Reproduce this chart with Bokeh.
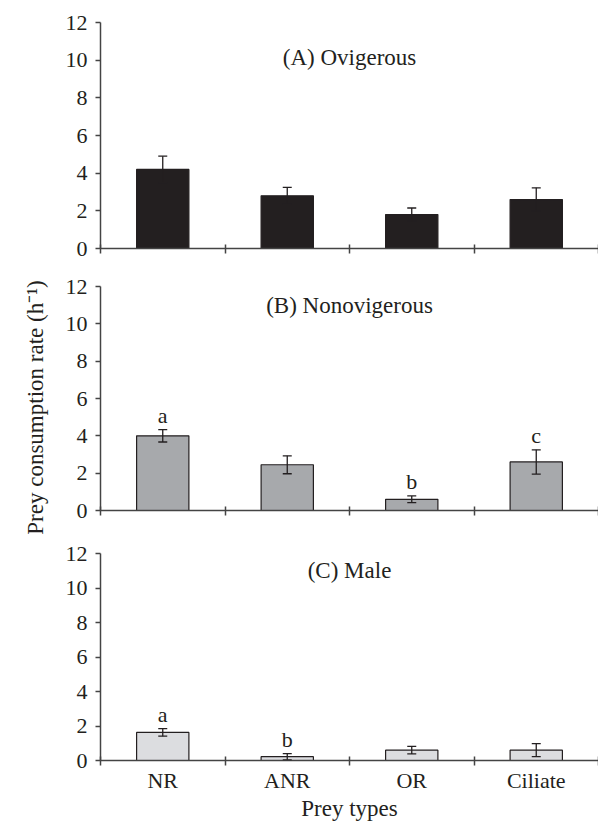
import math
from bokeh.plotting import figure
from bokeh.layouts import row, column
from bokeh.models import Range1d, FixedTicker, Whisker, TeeHead, ColumnDataSource
from bokeh.core.properties import value
from bokeh.embed import file_html
from bokeh.resources import INLINE

# ---------------- data ----------------
categories = ["NR", "ANR", "OR", "Ciliate"]
y_ticks = [0, 2, 4, 6, 8, 10, 12]

ovig_mean = [4.2, 2.8, 1.8, 2.6]
ovig_se = [0.7, 0.45, 0.35, 0.62]
ovig_letters = ["", "", "", ""]

nonovig_mean = [4.0, 2.45, 0.6, 2.6]
nonovig_se = [0.33, 0.48, 0.18, 0.65]
nonovig_letters = ["a", "", "b", "c"]

male_mean = [1.63, 0.22, 0.6, 0.6]
male_se = [0.22, 0.18, 0.22, 0.38]
male_letters = ["a", "b", "", ""]

panel_titles = ["(A) Ovigerous", "(B) Nonovigerous", "(C) Male"]
x_title = "Prey types"
y_title = "Prey consumption rate (h\u207b\u00b9)"

# ---------------- style ----------------
FONT = "Liberation Serif"
INK = "#231f20"
AXIS = "#444444"
FS = "22px"
FS_T = "23px"


def make_panel(mean, se, letters, title, title_y, fill, frame_h, b_top, b_bottom, show_labels):
    n = len(categories)
    xs = [i + 0.5 for i in range(n)]
    src = ColumnDataSource(dict(
        x=xs, top=mean,
        upper=[m + s for m, s in zip(mean, se)],
        lower=[m - s for m, s in zip(mean, se)],
    ))
    p = figure(frame_width=498, frame_height=frame_h,
               x_range=Range1d(0, n), y_range=Range1d(0, 12),
               output_backend="svg", toolbar_location=None,
               min_border_left=42, min_border_right=0,
               min_border_top=b_top, min_border_bottom=b_bottom)
    p.outline_line_color = None
    p.xgrid.visible = False
    p.ygrid.visible = False
    p.background_fill_color = "white"
    p.border_fill_color = "white"

    p.vbar(x="x", top="top", bottom=0, width=0.42, source=src,
           fill_color=fill, line_color=INK, line_width=1.2)

    w = Whisker(source=src, base="x", upper="upper", lower="lower",
                line_color=INK, line_width=1.3, level="overlay",
                upper_head=TeeHead(size=9, line_color=INK, line_width=1.3),
                lower_head=TeeHead(size=9, line_color=INK, line_width=1.3))
    p.add_layout(w)

    # significance letters (only where present)
    lx = [x for x, l in zip(xs, letters) if l]
    ly = [m + s for m, s, l in zip(mean, se, letters) if l]
    lt = [l for l in letters if l]
    if lt:
        p.text(x=lx, y=ly, text=lt,
               text_font=value(FONT), text_font_size=FS, text_color=INK,
               text_align="center", text_baseline="alphabetic", y_offset=-14)

    p.text(x=[n / 2], y=[title_y], text=[title],
           text_font=value(FONT), text_font_size=FS_T, text_color=INK,
           text_align="center", text_baseline="middle")

    # y axis
    ya = p.yaxis[0]
    ya.ticker = FixedTicker(ticks=y_ticks, minor_ticks=[])
    ya.axis_line_color = AXIS
    ya.axis_line_width = 1.5
    ya.major_tick_line_color = AXIS
    ya.major_tick_line_width = 1.5
    ya.major_tick_in = 0
    ya.major_tick_out = 5
    ya.major_label_standoff = 8
    ya.major_label_text_font = FONT
    ya.major_label_text_font_size = FS
    ya.major_label_text_color = INK

    # x axis: category boundaries as minor ticks, labels at centres
    xa = p.xaxis[0]
    xa.axis_line_color = AXIS
    xa.axis_line_width = 1.5
    xa.major_tick_line_color = None
    xa.major_tick_in = 0
    xa.major_tick_out = 0
    xa.minor_tick_line_color = AXIS
    xa.minor_tick_line_width = 1.5
    xa.minor_tick_in = 4
    xa.minor_tick_out = 5
    if show_labels:
        xa.ticker = FixedTicker(ticks=xs, minor_ticks=list(range(n + 1)))
        xa.major_label_overrides = {x: c for x, c in zip(xs, categories)}
        xa.major_label_text_font = FONT
        xa.major_label_text_color = INK
        xa.major_label_text_font_size = FS
        xa.major_label_standoff = 2
        xa.axis_label = x_title
        xa.axis_label_text_font = FONT
        xa.axis_label_text_font_size = FS_T
        xa.axis_label_text_font_style = "normal"
        xa.axis_label_text_color = INK
        xa.axis_label_standoff = 0
    else:
        xa.ticker = FixedTicker(ticks=[], minor_ticks=list(range(n + 1)))
        xa.major_label_standoff = 0
    return p


pA = make_panel(ovig_mean, ovig_se, ovig_letters, panel_titles[0], 10.12,
                INK, 226, 22, 18, False)
pB = make_panel(nonovig_mean, nonovig_se, nonovig_letters, panel_titles[1], 10.98,
                "#a7a9ac", 224, 20, 22, False)
pC = make_panel(male_mean, male_se, male_letters, panel_titles[2], 11.0,
                "#dcdde0", 207, 21, 59, True)

# y-axis title in its own narrow strip
total_h = 819
lab = figure(frame_width=58, frame_height=total_h,
             x_range=Range1d(0, 58), y_range=Range1d(0, total_h),
             x_axis_type=None, y_axis_type=None,
             output_backend="svg", toolbar_location=None,
             min_border=0)
lab.outline_line_color = None
lab.xgrid.visible = False
lab.ygrid.visible = False
lab.text(x=[35], y=[total_h - 407], text=[y_title], angle=math.pi / 2,
         text_font=value(FONT), text_font_size=FS_T, text_color=INK,
         text_align="center", text_baseline="middle")

layout = row(lab, column(pA, pB, pC, spacing=0), spacing=0)

open("out.html", "w").write(file_html(layout, INLINE))
